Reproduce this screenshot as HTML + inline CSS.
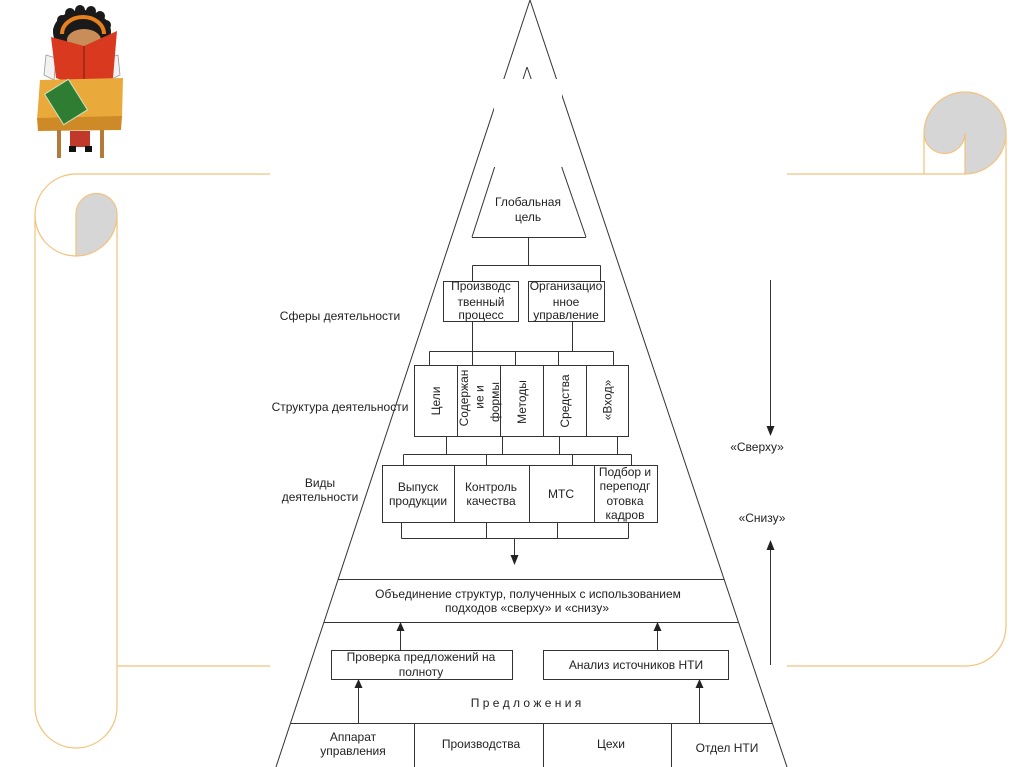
<!DOCTYPE html>
<html><head><meta charset="utf-8"><style>
html,body{margin:0;padding:0;background:#fff;}
svg{display:block;}
text{font-family:"Liberation Sans",Arial,sans-serif;font-size:12px;fill:#222;}
</style></head><body>
<svg width="1024" height="767" viewBox="0 0 1024 767" xmlns="http://www.w3.org/2000/svg">
<!-- Scrolls -->
<g fill="none" stroke="#f4c27c" stroke-width="1.2">
  <path d="M76,174 H270"/>
  <path d="M76,174 A41,41 0 0,0 35,215 A41,41 0 0,0 76,256"/>
  <path d="M35,215 V707 A41,41 0 0,0 117,707 V215"/>
  <path d="M117,666 H270"/>
  <path d="M787,174 H965"/>
  <path d="M924,133 V174"/>
  <path d="M1006,133 V626 A40,40 0 0,1 966,666 H787"/>
</g>
<path d="M76,256 A41,41 0 0,0 117,215 L117,214 A20.5,20.5 0 0,0 76,214 Z" fill="#d6d6d6" stroke="#f4c27c" stroke-width="1.2"/>
<path d="M965,174 A41,41 0 1,0 924,133 A20.5,20.5 0 0,0 965,133 Z" fill="#d6d6d6" stroke="#f4c27c" stroke-width="1.2"/>

<!-- Cartoon -->
<g>
  <ellipse cx="82" cy="32" rx="29" ry="22" fill="#1a1a1a"/>
  <circle cx="58" cy="30" r="5" fill="#1a1a1a"/><circle cx="62" cy="20" r="5" fill="#1a1a1a"/>
  <circle cx="70" cy="13" r="5" fill="#1a1a1a"/><circle cx="80" cy="10" r="5" fill="#1a1a1a"/>
  <circle cx="91" cy="11" r="5" fill="#1a1a1a"/><circle cx="100" cy="16" r="5" fill="#1a1a1a"/>
  <circle cx="106" cy="25" r="5" fill="#1a1a1a"/>
  <path d="M62,34 A21,17 0 0,1 104,34" fill="none" stroke="#e8801e" stroke-width="4"/>
  <ellipse cx="84" cy="40" rx="17" ry="11" fill="#c98d5a"/>
  <path d="M46,55 L44,75 L54,80 L56,58 Z" fill="#f2f2f2" stroke="#999" stroke-width="0.8"/>
  <path d="M118,55 L120,75 L110,80 L108,58 Z" fill="#f2f2f2" stroke="#999" stroke-width="0.8"/>
  <path d="M51,37 L84,46 L117,31 L113,78 L84,88 L56,78 Z" fill="#d9391f"/>
  <path d="M84,46 L84,88" stroke="#9c2212" stroke-width="1.5"/>
  <path d="M40,80 L123,78 L122,118 L37,120 Z" fill="#e9aa3b"/>
  <path d="M37,118 L122,116 L121,130 L38,131 Z" fill="#cf8a28"/>
  <g transform="translate(66,102) rotate(-32)"><rect x="-14" y="-18" width="28" height="36" fill="#2f7d33" stroke="#cfe3c0" stroke-width="1"/></g>
  <rect x="70" y="131" width="20" height="16" fill="#c0392b"/>
  <rect x="69" y="146" width="7" height="6" fill="#111"/><rect x="85" y="146" width="7" height="6" fill="#111"/>
  <rect x="57" y="130" width="4" height="28" fill="#b37a3a"/>
  <rect x="100" y="130" width="4" height="28" fill="#b37a3a"/>
</g>

<!-- Pyramid -->
<g fill="none" stroke="#333" stroke-width="1">
  <line x1="530" y1="0" x2="275" y2="770"/>
  <line x1="530" y1="0" x2="788" y2="770"/>
  <line x1="527" y1="67" x2="472" y2="237"/>
  <line x1="527" y1="67" x2="586" y2="237"/>
  <line x1="472" y1="237.5" x2="586" y2="237.5"/>
</g>
<rect x="494" y="79" width="68" height="88" fill="#fff"/>

<g fill="none" stroke="#333" stroke-width="1">
  <!-- from global goal -->
  <path d="M528.5,237 V265.5 M472.5,265.5 H600.5 M472.5,265.5 V281 M600.5,265.5 V281"/>
  <rect x="443.5" y="281.5" width="75" height="40"/>
  <rect x="528.5" y="281.5" width="76" height="40"/>
  <path d="M472.5,321.5 V365 M572.5,321.5 V351.5 M429.5,351.5 H613.5 M429.5,351.5 V365 M515.5,351.5 V365 M558.5,351.5 V365 M613.5,351.5 V365"/>
  <!-- structure boxes -->
  <rect x="414.5" y="365.5" width="214" height="71"/>
  <path d="M457.5,365.5 V436.5 M500.5,365.5 V436.5 M543.5,365.5 V436.5 M586.5,365.5 V436.5"/>
  <path d="M446.5,436.5 V454.5 M502.5,436.5 V454.5 M559.5,436.5 V454.5 M617.5,436.5 V454.5 M403.5,454.5 H631.5 M403.5,454.5 V465 M486.5,454.5 V465 M572.5,454.5 V465 M631.5,454.5 V465"/>
  <!-- kinds boxes -->
  <rect x="382.5" y="465.5" width="275" height="57"/>
  <path d="M454.5,465.5 V522.5 M529.5,465.5 V522.5 M594.5,465.5 V522.5"/>
  <path d="M401.5,522.5 V538.5 M486.5,522.5 V538.5 M557.5,522.5 V538.5 M628.5,522.5 V538.5 M401.5,538.5 H628.5 M514.5,538.5 V556"/>
  <!-- bands -->
  <path d="M338,579.5 H724 M324,622.5 H738"/>
  <path d="M400.5,630 V650 M657.5,630 V650"/>
  <rect x="331.5" y="650.5" width="181" height="29"/>
  <rect x="543.5" y="650.5" width="185" height="29"/>
  <path d="M358.5,687 V723 M699.5,687 V723"/>
  <path d="M291,723.5 H772"/>
  <path d="M414.5,723.5 V767 M543.5,723.5 V767 M671.5,723.5 V767"/>
  <!-- right arrows -->
  <path d="M770.5,280 V428 M770.5,548 V665"/>
</g>
<g fill="#222">
  <path d="M510.5,555 L518.5,555 L514.5,565 Z"/>
  <path d="M400.5,622 L396.5,631 L404.5,631 Z"/>
  <path d="M657.5,622 L653.5,631 L661.5,631 Z"/>
  <path d="M358.5,679 L354.5,688 L362.5,688 Z"/>
  <path d="M699.5,679 L695.5,688 L703.5,688 Z"/>
  <path d="M766.5,426 L774.5,426 L770.5,436 Z"/>
  <path d="M770.5,540 L766.5,550 L774.5,550 Z"/>
</g>

<!-- Text -->
<g text-anchor="middle">
  <text x="528" y="206">Глобальная</text>
  <text x="528" y="221">цель</text>
  <text x="481" y="290">Производс</text>
  <text x="481" y="306">твенный</text>
  <text x="481" y="319">процесс</text>
  <text x="566" y="290">Организацио</text>
  <text x="566" y="306">нное</text>
  <text x="566" y="319">управление</text>
  <text x="340" y="320">Сферы деятельности</text>
  <text x="340" y="411">Структура деятельности</text>
  <text x="320" y="487">Виды</text>
  <text x="320" y="501">деятельности</text>
  <text x="418" y="491">Выпуск</text>
  <text x="418" y="505">продукции</text>
  <text x="491" y="491">Контроль</text>
  <text x="491" y="505">качества</text>
  <text x="561" y="498">МТС</text>
  <text x="625" y="476">Подбор и</text>
  <text x="625" y="490">переподг</text>
  <text x="625" y="505">отовка</text>
  <text x="625" y="519">кадров</text>
  <text x="528" y="598">Объединение структур, полученных с использованием</text>
  <text x="527" y="612">подходов «сверху» и «снизу»</text>
  <text x="421" y="661">Проверка предложений на</text>
  <text x="421" y="676">полноту</text>
  <text x="636" y="669">Анализ источников НТИ</text>
  <text x="526" y="707">П р е д л о ж е н и я</text>
  <text x="353" y="741">Аппарат</text>
  <text x="353" y="755">управления</text>
  <text x="481" y="748">Производства</text>
  <text x="611" y="748">Цехи</text>
  <text x="727" y="752">Отдел НТИ</text>
  <text x="757" y="451">«Сверху»</text>
  <text x="762" y="522">«Снизу»</text>
  <g dominant-baseline="central">
    <text transform="translate(436,401) rotate(-90)">Цели</text>
    <text transform="translate(464,398) rotate(-90)">Содержан</text>
    <text transform="translate(479.5,397) rotate(-90)">ие и</text>
    <text transform="translate(495,402) rotate(-90)">формы</text>
    <text transform="translate(522,402) rotate(-90)">Методы</text>
    <text transform="translate(565,401) rotate(-90)">Средства</text>
    <text transform="translate(607.5,400) rotate(-90)">«Вход»</text>
  </g>
</g>
</svg>
</body></html>
